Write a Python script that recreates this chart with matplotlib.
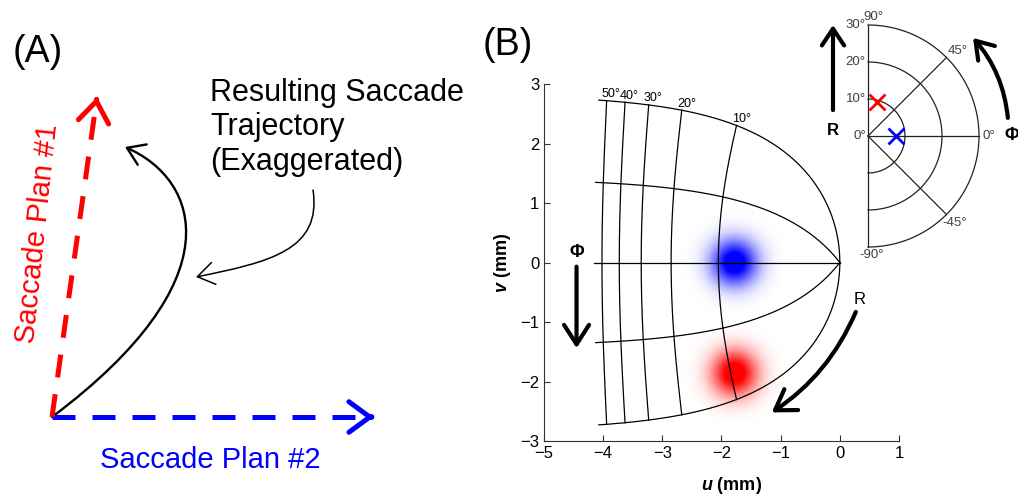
import numpy as np
import matplotlib
matplotlib.use('Agg')
import matplotlib.pyplot as plt
from matplotlib.patches import FancyArrowPatch
from matplotlib.path import Path

plt.rcParams['font.family'] = ['Liberation Sans', 'DejaVu Sans']
plt.rcParams['mathtext.fontset'] = 'custom'
plt.rcParams['mathtext.rm'] = 'Liberation Sans'
plt.rcParams['mathtext.bf'] = 'Liberation Sans:bold'
plt.rcParams['mathtext.it'] = 'Liberation Sans:italic'
if 'mathtext.bfit' in plt.rcParams:
    plt.rcParams['mathtext.bfit'] = 'Liberation Sans:italic:bold'

W, H = 1018, 496

# panel A: schematic, coordinates in pixel-like units (y points down)
origin_a = (52, 417)
plan1_tip = (97, 97)
plan2_tip = (374, 417)
traj_ctrl = [(52, 417), (235, 280), (200, 180), (125, 147)]
note_ctrl = [(313, 190), (322, 250), (270, 262), (196, 277)]

# panel B: collicular map (Ottes et al. 1986 style log-polar mapping)
map_A = 3.0    # deg
map_Bu = 1.4   # mm
map_Bv = 1.8   # mm
ecc_lines = [10, 20, 30, 40, 50]
ecc_labels = ['10°', '20°', '30°', '40°', '50°']
dir_lines = [-90, -45, 0, 45, 90]
ecc_max = 55
blue_target = (7.7, 0)    # (R deg, phi deg)
red_target = (9.5, 75)
blob_sigma = 0.27

u_ticks = [-5, -4, -3, -2, -1, 0, 1]
v_ticks = [-3, -2, -1, 0, 1, 2, 3]

# inset: visual field
inset_rings = [10, 20, 30]
inset_r_ticks = [0, 10, 20, 30]


def px_axes(fig, x0, y0, x1, y1):
    return fig.add_axes([x0 / W, 1 - y1 / H, (x1 - x0) / W, (y1 - y0) / H])


def sc_map(R, phi):
    z = np.asarray(R) * np.exp(1j * np.radians(phi)) + map_A
    return -map_Bu * np.log(np.abs(z) / map_A), -map_Bv * np.angle(z)


def head(ax, p0, p1, color, lw, hl, hw, ms=20):
    ax.annotate('', xy=p1, xytext=p0,
                arrowprops=dict(arrowstyle=f'->,head_length={hl},head_width={hw}',
                                color=color, lw=lw, shrinkA=0, shrinkB=0,
                                mutation_scale=ms))


def dashed_arrow(ax, p0, p1, color):
    p0 = np.array(p0, float)
    p1 = np.array(p1, float)
    d = (p1 - p0) / np.hypot(*(p1 - p0))
    ax.plot([p0[0], p1[0] - d[0] * 6], [p0[1], p1[1] - d[1] * 6], color=color,
            lw=3.6, dashes=(4.6, 3.4), dash_capstyle='butt')
    head(ax, p1 - d * 3, p1, color, 3.6, 0.75, 0.55)


def bezier_arrow(ax, ctrl, lw, hl, hw):
    path = Path(ctrl, [Path.MOVETO, Path.CURVE4, Path.CURVE4, Path.CURVE4])
    arr = FancyArrowPatch(path=path, arrowstyle=f'->,head_length={hl},head_width={hw}',
                          color='black', lw=lw, mutation_scale=20)
    ax.add_patch(arr)


fig = plt.figure(figsize=(W / 100, H / 100), dpi=100)

# ---------------- panel A ----------------
axA = px_axes(fig, 0, 0, 480, 496)
axA.set_xlim(0, 480)
axA.set_ylim(496, 0)
axA.axis('off')

dashed_arrow(axA, origin_a, plan2_tip, 'blue')
dashed_arrow(axA, origin_a, plan1_tip, 'red')
bezier_arrow(axA, traj_ctrl, 1.7, 0.6, 0.4)
bezier_arrow(axA, note_ctrl, 1.1, 0.6, 0.4)

axA.text(13, 62, '(A)', fontsize=27, ha='left', va='baseline')
# baseline alignment of a multi-line text uses the last line
axA.text(210, 170, 'Resulting Saccade\nTrajectory\n(Exaggerated)', fontsize=22,
         ha='left', va='baseline', linespacing=1.2)
axA.text(210, 468, 'Saccade Plan #2', fontsize=21, color='blue', ha='center', va='baseline')
axA.text(38, 234, 'Saccade Plan #1', fontsize=21, color='red', ha='center', va='center',
         rotation=84, rotation_mode='anchor')

# ---------------- panel B ----------------
fig.text(483 / W, 1 - 55 / H, '(B)', fontsize=27, ha='left', va='baseline')

ax = px_axes(fig, 544, 84, 899, 441)
ax.set_xlim(-5, 1)
ax.set_ylim(-3, 3)
ax.spines['top'].set_visible(False)
ax.spines['right'].set_visible(False)
for s in ['left', 'bottom']:
    ax.spines[s].set_color('#333333')
ax.set_xticks(u_ticks)
ax.set_yticks(v_ticks)
ax.tick_params(direction='in', length=4, labelsize=12, color='#333333', labelcolor='black')

# activity blobs
gu, gv = np.meshgrid(np.linspace(-5, 1, 600), np.linspace(-3, 3, 600))
for target, rgb in [(blue_target, (0, 0, 1)), (red_target, (1, 0, 0))]:
    cu, cv = sc_map(*target)
    alpha = np.clip(1.2 * np.exp(-((gu - cu) ** 2 + (gv - cv) ** 2) / (2 * blob_sigma ** 2)), 0, 1)
    img = np.zeros(gu.shape + (4,))
    img[..., :3] = rgb
    img[..., 3] = alpha
    ax.imshow(img, extent=(-5, 1, -3, 3), origin='lower', aspect='auto',
              interpolation='bilinear', zorder=1)

phis = np.linspace(-90, 90, 361)
for R, lab in zip(ecc_lines, ecc_labels):
    u, v = sc_map(R, phis)
    ax.plot(u, v, color='black', lw=0.9, zorder=2)
    ut, vt = sc_map(R, -90)
    ax.annotate(lab, (ut, vt), xytext=(-3.5, 0.5), textcoords='offset points',
                ha='left', va='bottom', fontsize=9)
radii = np.linspace(0, ecc_max, 400)
for phi in dir_lines:
    u, v = sc_map(radii, phi)
    ax.plot(u, v, color='black', lw=0.9, zorder=2)

ax.annotate('', xy=(-4.45, -1.44), xytext=(-4.45, -0.07),
            arrowprops=dict(arrowstyle='->,head_length=0.7,head_width=0.45', color='black',
                            lw=3, shrinkA=0, shrinkB=0, mutation_scale=20))
ax.text(-4.45, 0.16, 'Φ', fontsize=13, fontweight='bold', ha='center', va='center')
ax.annotate('', xy=(-1.15, -2.52), xytext=(0.27, -0.83),
            arrowprops=dict(arrowstyle='->,head_length=0.7,head_width=0.45', color='black',
                            lw=3, shrinkA=0, shrinkB=0, mutation_scale=20,
                            connectionstyle='arc3,rad=-0.15'))
ax.text(0.33, -0.63, 'R', fontsize=12, ha='center', va='center')

ax.set_xlabel(r'$\mathbfit{u}$ (mm)', fontsize=13, fontweight='bold')
ax.set_ylabel(r'$\mathbfit{v}$ (mm)', fontsize=13, fontweight='bold')
ax.xaxis.set_label_coords(0.529, -0.095)
ax.yaxis.set_label_coords(-0.087, 0.5)

# ---------------- inset: visual field ----------------
cx, cy, scale = 868, 136, 111 / 30
ix0, iy0, ix1, iy1 = 780, 0, 1018, 270
axI = px_axes(fig, ix0, iy0, ix1, iy1)
axI.set_xlim((ix0 - cx) / scale, (ix1 - cx) / scale)
axI.set_ylim((cy - iy1) / scale, (cy - iy0) / scale)
axI.axis('off')
axI.patch.set_alpha(0)

rmax = inset_rings[-1]
th = np.radians(phis)
for r in inset_rings:
    axI.plot(r * np.cos(th), r * np.sin(th), color='#222222', lw=0.9)
for a in dir_lines:
    axI.plot([0, rmax * np.cos(np.radians(a))], [0, rmax * np.sin(np.radians(a))],
             color='#222222', lw=0.9)

lab_c = '#404040'
fs_i = 9.5
for r in inset_r_ticks:
    axI.text(-0.6, r, f'{r}°', ha='right', va='center', fontsize=fs_i, color=lab_c)
axI.text(1.5, rmax + 0.6, '90°', ha='center', va='bottom', fontsize=fs_i, color=lab_c)
axI.text(1.0, -rmax - 0.6, '-90°', ha='center', va='top', fontsize=fs_i, color=lab_c)
axI.text(rmax * np.cos(np.radians(45)) + 0.2, rmax * np.sin(np.radians(45)) + 0.2, '45°',
         ha='left', va='bottom', fontsize=fs_i, color=lab_c)
axI.text(rmax + 1.0, 0, '0°', ha='left', va='center', fontsize=fs_i, color=lab_c)
axI.text(rmax * np.cos(np.radians(-45)) - 1.2, rmax * np.sin(np.radians(-45)) - 0.8, '-45°',
         ha='left', va='top', fontsize=fs_i, color=lab_c)

for target, col in [(red_target, 'red'), (blue_target, 'blue')]:
    R, phi = target
    axI.plot(R * np.cos(np.radians(phi)), R * np.sin(np.radians(phi)), 'x', color=col,
             ms=12, mew=2)

axI.annotate('', xy=(-9.46, 30), xytext=(-9.46, 7.0),
             arrowprops=dict(arrowstyle='->,head_length=0.6,head_width=0.4', color='black',
                             lw=3, shrinkA=0, shrinkB=0, mutation_scale=20))
axI.text(-9.46, 1.6, 'R', fontsize=12, fontweight='bold', ha='center', va='center')
axI.annotate('', xy=(28.4, 26.5), xytext=(37.8, 4.9),
             arrowprops=dict(arrowstyle='->,head_length=0.6,head_width=0.4', color='black',
                             lw=3, shrinkA=0, shrinkB=0, mutation_scale=20,
                             connectionstyle='arc3,rad=0.16'))
axI.text(38.9, 0, 'Φ', fontsize=13, fontweight='bold', ha='center', va='center')

fig.savefig('out.png', dpi=100)
